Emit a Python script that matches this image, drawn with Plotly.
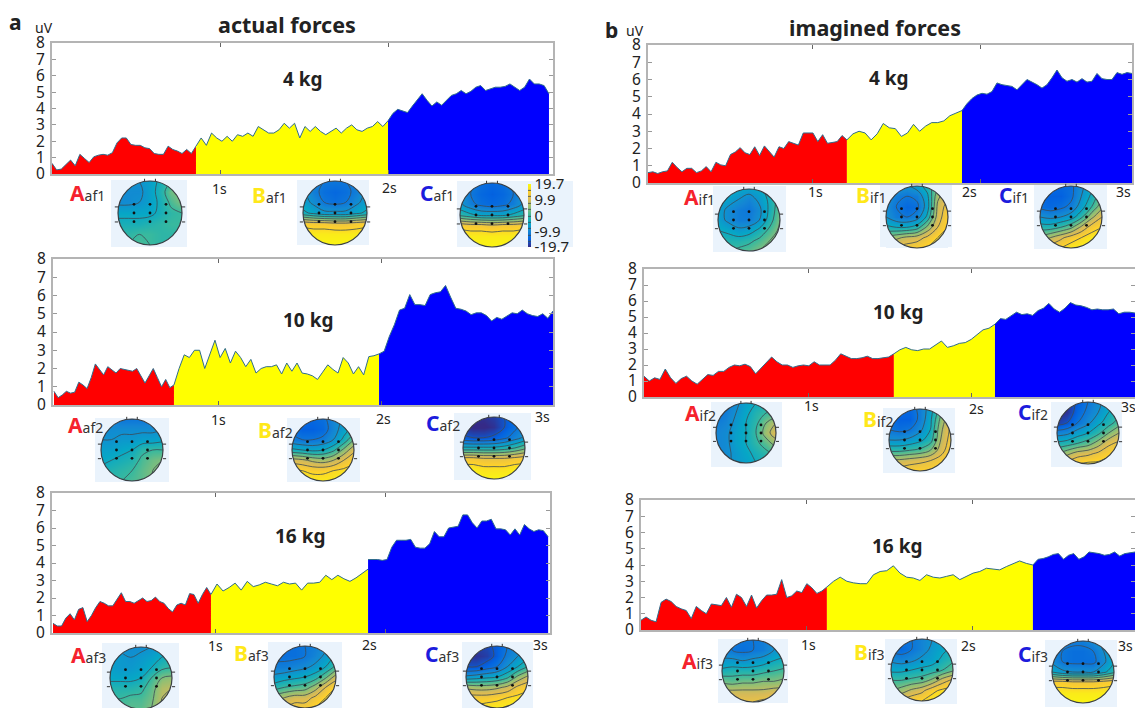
import numpy as np
import plotly.graph_objects as go

W, H = 1135, 708

# ---------- amplitude series (uV), one list per time window ----------
af1_A = [.65,.25,.3,.55,.85,.5,1.2,.95,.7,1.05,1.15,1.2,1.15,1.3,1.9,2.2,2.2,1.8,1.75,1.75,1.6,1.55,1.25,1.2,1.2,1.7,1.5,1.4,1.25,1.5,1.25,1.7]
af1_B = [1.7,2.2,1.75,2.5,2.2,2.0,2.3,2.0,2.4,2.3,2.5,2.3,2.9,2.7,2.5,2.5,2.7,3.1,2.8,3.1,2.2,2.9,2.6,2.9,2.6,2.4,2.6,2.8,2.5,2.8,3.0,2.7,2.6,2.8,2.9,3.2,2.9,3.25]
af1_C = [3.25,3.7,3.95,3.85,3.75,4.15,4.5,4.9,4.5,4.15,4.4,4.2,4.5,4.8,4.9,5.1,4.9,5.05,5.3,5.4,5.1,5.2,5.3,5.3,5.35,5.5,5.3,5.1,5.3,5.8,5.5,5.5,5.4,4.9]
af2_A = [.75,.4,.55,.75,.65,.7,1.25,1.1,.9,1.5,2.25,1.95,1.65,2.1,1.9,1.75,2.0,1.95,1.9,1.85,2.0,1.6,1.2,1.6,2.0,1.5,1.0,1.4,.95,1.1]
af2_B = [1.1,2.0,2.75,2.6,3.0,3.0,2.0,2.8,3.55,2.6,3.1,2.3,2.95,2.6,2.1,2.5,1.75,2.0,2.1,2.1,2.2,1.7,2.3,1.85,2.3,1.75,1.7,1.6,1.4,1.8,2.2,1.95,1.75,2.6,2.3,1.7,2.1,1.65,2.65,2.7,2.8]
af2_C = [2.8,2.95,3.75,4.4,5.2,5.3,6.05,5.5,5.5,5.45,6.05,6.15,6.2,6.55,5.9,5.3,5.25,5.15,4.95,5.05,5.05,4.9,4.6,4.8,4.7,4.9,5.05,5.0,5.2,5.0,4.9,4.85,5.0,4.75,5.15]
af3_A = [.55,.4,.4,.85,1.1,.75,1.35,1.45,.65,1.0,1.45,1.8,1.7,1.55,1.55,1.9,2.3,1.8,1.8,1.7,1.85,2.0,1.8,1.85,2.05,1.8,1.7,1.4,1.2,1.6,1.7,1.6,2.25,2.2,1.7,2.2,2.6,2.2]
af3_B = [2.2,2.8,2.4,2.6,2.85,2.45,2.95,2.65,2.75,2.9,2.8,2.7,2.9,2.8,2.85,2.45,2.85,2.85,2.9,3.3,3.05,3.3,3.1,2.95,3.15,3.4,3.65]
af3_C = [4.2,4.2,4.2,4.15,4.2,4.9,5.3,5.3,5.3,5.35,4.9,4.85,4.85,5.1,5.8,5.5,5.5,6.0,6.05,6.1,6.75,6.75,6.3,6.0,6.4,6.4,6.5,5.95,5.95,5.9,5.6,5.95,5.6,6.2,5.95,5.8,5.9,5.85,5.5]
if1_A = [.6,.65,.55,.65,.7,1.2,.9,.65,.85,.85,.6,.7,.95,.65,1.2,1.05,1.0,1.65,1.8,2.05,1.75,1.65,2.1,1.6,2.15,1.8,1.5,2.1,2.0,2.4,2.3,2.2,2.9,2.9,2.9,2.4,2.8,2.3,2.35,2.4,2.75,2.5]
if1_B = [2.5,2.85,3.0,2.9,2.5,2.85,3.45,3.2,3.15,2.7,2.9,3.4,3.0,3.3,3.5,3.5,3.6,3.9,4.05,4.2]
if1_C = [4.2,4.6,4.9,5.1,5.2,5.15,5.3,5.8,5.7,5.65,5.6,5.4,5.7,6.0,5.85,5.7,5.5,5.7,6.1,6.55,6.1,5.9,6.0,5.85,6.05,5.85,5.9,6.35,6.05,6.0,6.0,6.4,6.3,6.4,6.35]
if2_A = [1.3,1.0,1.2,1.1,1.75,1.2,.85,1.15,1.3,1.0,.8,1.1,1.4,1.35,1.6,1.6,1.85,2.0,1.95,2.05,1.9,1.45,1.8,2.1,2.5,2.2,2.0,2.0,1.85,1.95,2.0,1.95,2.2,2.0,2.0,2.0,2.3,2.7,2.55,2.4,2.4,2.45,2.55,2.4,2.4,2.45,2.5,2.7]
if2_B = [2.7,2.95,3.1,2.95,2.9,3.0,3.0,3.25,3.5,3.1,3.2,3.35,3.4,3.6,3.9,4.2,4.3,4.55]
if2_C = [4.55,4.9,4.85,5.1,5.3,5.15,5.2,5.1,5.4,5.55,5.85,5.5,5.3,5.55,5.9,5.75,5.7,5.6,5.45,5.5,5.45,5.45,5.5,5.2,5.3,5.3,5.25]
if3_A = [.6,.8,.6,.5,1.7,1.9,1.75,1.45,1.3,1.2,.7,1.45,1.2,1.0,1.6,1.55,1.5,2.0,1.4,2.2,2.0,1.45,2.15,1.35,1.8,2.15,2.15,2.2,3.1,2.0,2.1,2.4,2.3,2.85,2.6,2.25,2.4,2.65]
if3_B = [2.65,3.0,3.25,3.0,2.9,2.85,2.85,3.4,3.6,3.65,3.95,3.5,3.25,3.2,3.05,3.4,3.25,3.2,3.3,3.4,3.1,3.3,3.5,3.6,3.8,3.75,3.7,3.9,4.1,4.25,4.1,4.0]
if3_C = [4.0,4.35,4.4,4.5,4.65,4.7,4.35,4.6,4.7,4.35,4.5,4.8,4.75,4.7,4.6,4.65,4.8,4.55,4.7,4.75,4.8]

# ---------- scalp map values, rows top to bottom ----------
map_af1_A = [[-8,-8,-8,-6,-3,0,2],[-9,-9,-9,-6,-2,3,5],[-9,-9,-8,-6,-3,1,4],[-5,-5,-5,-5,-3,-1,0],[-3,-3,-3,-2,-1,0,0],[-1,-1,0,0,-1,-1,-1],[0,0,1,0,-1,-1,-1]]
map_af1_B = [[-8,-10,-12,-12,-12,-10,-8],[-7,-11,-13,-14,-13,-11,-7],[-6,-9,-12,-13,-12,-9,-6],[-3,-5,-7,-7,-7,-5,-3],[15,14,14,13,13,14,15],[18,18,18,18,18,18,18],[19,19,19,19,19,19,19]]
map_af1_C = [[-8,-11,-13,-14,-13,-11,-8],[-8,-12,-14,-15,-14,-12,-8],[-7,-11,-13,-14,-13,-11,-7],[-1,-3,-5,-5,-5,-3,-1],[15,14,14,13,14,14,15],[18,18,18,18,18,18,18],[19,19,19,19,19,19,19]]
map_af2_A = [[-10,-11,-12,-12,-12,-11,-10],[-9,-9,-9,-9,-9,-9,-8],[-8,-8,-7,-7,-6,-6,-5],[-6,-6,-5,-4,-1,0,0],[-5,-4,-3,-2,1,3,4],[-3,-2,-1,0,2,4,5],[-2,-1,0,1,2,4,5]]
map_af2_B = [[-13,-14,-14,-13,-10,-7,-4],[-13,-15,-15,-14,-10,-6,-2],[-11,-12,-12,-11,-8,-3,4],[-3,-4,-5,-4,-1,5,11],[10,9,7,6,8,12,15],[17,16,15,15,16,17,18],[19,19,18,18,18,19,19]]
map_af2_C = [[-19,-19,-19,-18,-16,-13,-11],[-19,-20,-20,-19,-16,-13,-10],[-15,-16,-16,-15,-13,-10,-7],[-3,-3,-3,-3,-2,0,3],[13,13,12,12,12,13,14],[18,18,17,17,17,18,18],[19,19,19,19,19,19,19]]
map_af3_A = [[-8,-9,-9,-9,-8,-7,-6],[-7,-7,-8,-7,-6,-4,-2],[-6,-7,-7,-6,-4,-1,0],[-5,-5,-5,-4,0,4,5],[-2,-2,-2,-1,2,7,8],[0,0,1,1,3,8,9],[1,1,2,2,4,8,9]]
map_af3_B = [[-13,-13,-13,-12,-11,-9,-6],[-13,-13,-13,-12,-10,-7,-3],[-11,-11,-10,-9,-7,-4,1],[-7,-6,-5,-4,-2,3,10],[-2,0,1,2,6,12,16],[6,8,10,10,13,16,18],[10,12,14,14,16,18,19]]
map_af3_C = [[-18,-18,-17,-15,-12,-10,-8],[-19,-19,-18,-15,-11,-8,-5],[-16,-16,-14,-12,-8,-4,0],[-7,-6,-5,-4,-1,5,9],[7,6,6,7,9,13,15],[14,14,14,15,16,17,18],[17,17,18,18,18,19,19]]
map_if1_A = [[-2,-4,-5,-6,-5,-2,1],[-4,-6,-8,-10,-7,-3,2],[-6,-9,-11,-12,-9,-3,3],[-6,-9,-11,-11,-8,-2,4],[-4,-5,-7,-6,-3,1,5],[-2,-2,-2,-1,1,4,7],[0,0,1,2,4,6,8]]
map_if1_B = [[-6,-7,-8,-6,-2,3,8],[-8,-11,-12,-11,-5,7,11],[-9,-12,-14,-13,-6,9,14],[-8,-11,-12,-10,-3,10,15],[-3,-4,-4,-2,5,12,16],[5,7,9,10,13,16,18],[12,13,14,15,16,18,19]]
map_if1_C = [[-13,-14,-14,-13,-9,-5,-1],[-14,-15,-15,-13,-8,-3,3],[-13,-14,-13,-11,-6,0,7],[-8,-9,-8,-6,-1,7,12],[-2,-2,0,3,9,14,16],[5,8,11,14,16,18,19],[12,14,16,18,18,19,19]]
map_if2_A = [[-13,-12,-9,-6,-4,-3,-2],[-13,-11,-8,-5,-2,0,1],[-11,-10,-7,-4,-1,4,8],[-10,-9,-6,-4,0,6,11],[-10,-9,-6,-4,-1,2,6],[-10,-9,-7,-5,-3,-1,1],[-10,-9,-7,-6,-4,-3,-2]]
map_if2_B = [[-12,-14,-14,-11,-6,2,9],[-13,-15,-15,-11,-5,5,12],[-12,-13,-12,-9,-4,7,13],[-8,-8,-7,-5,-2,8,14],[-1,-1,0,1,4,10,15],[9,9,10,11,12,14,16],[14,14,15,15,15,16,18]]
map_if2_C = [[-19,-19,-15,-12,-9,-6,-4],[-20,-19,-14,-11,-8,-4,-1],[-18,-16,-12,-9,-5,-2,2],[-10,-9,-6,-4,-1,4,8],[-3,-2,0,2,6,11,13],[4,7,10,11,13,15,16],[12,14,16,17,17,18,18]]
map_if3_A = [[-11,-12,-12,-12,-11,-9,-7],[-11,-12,-13,-12,-11,-8,-6],[-7,-7,-8,-7,-6,-4,-3],[-3,-2,-2,-2,-1,0,1],[3,2,3,3,4,4,5],[9,9,9,9,9,10,10],[12,12,12,12,13,13,14]]
map_if3_B = [[-13,-13,-12,-10,-8,-6,-5],[-13,-14,-12,-10,-7,-5,-3],[-9,-10,-9,-7,-6,-3,-1],[-5,-5,-4,-3,-2,0,3],[0,0,1,2,5,10,13],[4,6,9,11,15,17,18],[11,13,15,16,18,18,19]]
map_if3_C = [[-8,-10,-11,-11,-9,-6,-3],[-10,-12,-13,-13,-12,-8,-3],[-9,-12,-13,-13,-13,-9,-4],[-4,-7,-8,-8,-8,-5,-1],[14,14,13,13,13,14,15],[18,18,18,18,18,18,18],[19,19,19,19,19,19,19]]

Y_TICKS = [0, 1, 2, 3, 4, 5, 6, 7, 8]
SEGMENT_COLORS = ["#ff0000", "#ffff00", "#0000ff"]
LETTER_COLORS = ["#f5222d", "#ffe81a", "#1c1cdc"]
PARULA = [[0, "#352a87"], [.125, "#0363e1"], [.25, "#1485d4"], [.375, "#06a7c6"], [.5, "#38b99e"],
          [.625, "#92bf73"], [.75, "#d9ba56"], [.875, "#fcce2e"], [1, "#f9fb0e"]]
COLORBAR_TICKS = [-19.7, -9.9, 0, 9.9, 19.7]
MAP_BG = "#eaf3fc"
FONT = "Noto Sans"

# panel layout in pixels: left, right, top, bottom, time range, window bounds (s)
panels = [
    dict(seg=[af1_A, af1_B, af1_C], box=(52, 553, 43, 174), rng=(0, 2.982), bounds=[0, .857, 2.0, 2.958], kg="4 kg", kgp=(303, 79)),
    dict(seg=[af2_A, af2_B, af2_C], box=(53, 553, 259, 405), rng=(-.018, 3.049), bounds=[-.012, .724, 1.982, 3.049], kg="10 kg", kgp=(308, 320)),
    dict(seg=[af3_A, af3_B, af3_C], box=(52, 550, 493, 633), rng=(.041, 2.97), bounds=[.047, .976, 1.9, 2.959], kg="16 kg", kgp=(300, 536)),
    dict(seg=[if1_A, if1_B, if1_C], box=(648, 1132, 45, 183), rng=(.018, 2.899), bounds=[.018, 1.202, 1.887, 2.899], kg="4 kg", kgp=(889, 78)),
    dict(seg=[if2_A, if2_B, if2_C], box=(644, 1135, 269, 397), rng=(-.012, 3.0), bounds=[-.012, 1.521, 2.141, 3.0], kg="10 kg", kgp=(898, 312)),
    dict(seg=[if3_A, if3_B, if3_C], box=(641, 1135, 500, 630), rng=(0, 2.976), bounds=[0, 1.12, 2.361, 2.976], kg="16 kg", kgp=(897, 546)),
]

# scalp maps: values, letter, subscript, circle centre, radius, background box, label position
maps = [
    (map_af1_A, 0, "af1", (150, 213), 32, (111, 187, 180, 247), (68, 193)),
    (map_af1_B, 1, "af1", (335, 213), 32, (297, 369, 180, 245), (250, 195)),
    (map_af1_C, 2, "af1", (492, 215), 32, (457, 573, 181, 247), (418, 193)),
    (map_af2_A, 0, "af2", (132, 450), 31, (95, 169, 418, 482), (66, 425)),
    (map_af2_B, 1, "af2", (323, 450), 31, (287, 360, 418, 482), (256, 430)),
    (map_af2_C, 2, "af2", (494, 448), 31, (454, 531, 413, 480), (424, 423)),
    (map_af3_A, 0, "af3", (141, 678), 31, (102, 179, 643, 708), (69, 655)),
    (map_af3_B, 1, "af3", (305, 677), 31, (268, 342, 642, 708), (232, 653)),
    (map_af3_C, 2, "af3", (497, 677), 31, (462, 533, 642, 708), (423, 654)),
    (map_if1_A, 0, "if1", (749, 220), 31, (713, 786, 186, 252), (682, 197)),
    (map_if1_B, 1, "if1", (917, 217), 31, (880, 952, 183, 247), (854, 195)),
    (map_if1_C, 2, "if1", (1071, 217), 31, (1034, 1107, 184, 249), (997, 195)),
    (map_if2_A, 0, "if2", (746, 433), 30, (711, 782, 402, 467), (683, 413)),
    (map_if2_B, 1, "if2", (920, 440), 31, (883, 955, 408, 473), (861, 419)),
    (map_if2_C, 2, "if2", (1088, 433), 31, (1051, 1122, 402, 467), (1016, 412)),
    (map_if3_A, 0, "if3", (753, 671), 31, (718, 788, 639, 703), (680, 661)),
    (map_if3_B, 1, "if3", (922, 670), 31, (885, 957, 639, 704), (852, 652)),
    (map_if3_C, 2, "if3", (1083, 672), 31, (1045, 1117, 640, 707), (1016, 654)),
]

time_labels = [
    ("1s", 219, 189), ("2s", 389, 187),
    ("1s", 218, 419), ("2s", 383, 418), ("3s", 542, 416),
    ("1s", 215, 645), ("2s", 369, 644), ("3s", 540, 644),
    ("1s", 815, 192), ("2s", 969, 191), ("3s", 1123, 191),
    ("1s", 811, 405), ("2s", 976, 408), ("3s", 1128, 407),
    ("1s", 808, 644), ("2s", 968, 645), ("3s", 1125, 645),
]
titles = [
    ("actual forces", 287, 25, 21.5, True), ("imagined forces", 875, 27, 21.5, True),
    ("a", 15, 22, 21, True), ("b", 611, 30, 21, True),
    ("uV", 44, 28, 14, False), ("uV", 635, 31, 14, False),
]

ELECTRODE_X = [-.5, 0, .5] * 3
ELECTRODE_Y = [.27] * 3 + [0] * 3 + [-.27] * 3
EAR_X = [-1.0, -1.1, None, -1.0, -1.1, None, 1.0, 1.1, None, 1.0, 1.1, None, -.17, -.17, None, .17, .17]
EAR_Y = [.19, .19, None, -.28, -.28, None, .19, .19, None, -.28, -.28, None, .98, 1.07, None, .98, 1.07]
GRID = np.linspace(-1, 1, 7)


def X(p):
    return p / W


def Y(p):
    return 1 - p / H


fig = go.Figure()
ax_n = 0
annotations = []
shapes = []


def note(text, x, y, size, bold=False, anchor="center", color="#222"):
    annotations.append(dict(text=f"<b>{text}</b>" if bold else text, x=X(x), y=Y(y), xref="paper", yref="paper",
                            xanchor=anchor, yanchor="middle", showarrow=False,
                            font=dict(size=size, family=FONT, color=color)))


layout_axes = {}
for p in panels:
    ax_n += 1
    xa, ya = f"x{ax_n}", f"y{ax_n}"
    l, r, t, b = p["box"]
    layout_axes[f"xaxis{ax_n}"] = dict(domain=[X(l), X(r)], range=list(p["rng"]), anchor=ya, tickvals=[1, 2],
                                       showticklabels=False, ticks="inside", ticklen=4, tickcolor="#666",
                                       showgrid=False, zeroline=False, showline=True, linecolor="#b4b4b4",
                                       linewidth=2, mirror="ticks")
    layout_axes[f"yaxis{ax_n}"] = dict(domain=[Y(b), Y(t)], range=[0, 8], anchor=xa, tickvals=Y_TICKS,
                                       ticks="inside", ticklen=4, tickcolor="#999", showgrid=False, zeroline=False,
                                       showline=True, linecolor="#b4b4b4", linewidth=2, mirror="ticks",
                                       tickfont=dict(size=15.5, family=FONT, color="#222"), ticklabelstandoff=2)
    for i, vals in enumerate(p["seg"]):
        ts = np.linspace(p["bounds"][i], p["bounds"][i + 1], len(vals))
        fig.add_trace(go.Scatter(x=ts, y=vals, mode="lines", fill="tozeroy", fillcolor=SEGMENT_COLORS[i],
                                 line=dict(color="#2f6d8c", width=1), xaxis=xa, yaxis=ya, showlegend=False,
                                 hoverinfo="skip"))
    note(p["kg"], p["kgp"][0], p["kgp"][1], 19, bold=True)

theta = np.linspace(0, 2 * np.pi, 121)
hole = "M" + "L".join(f"{np.cos(a):.4f},{np.sin(a):.4f}" for a in theta) + "Z"
mask_path = "M-1,-1L1,-1L1,1L-1,1Z" + hole

for z, letter, sub, (cx, cy), rad, (bl, br, bt, bb), (lx, ly) in maps:
    ax_n += 1
    xa, ya = f"x{ax_n}", f"y{ax_n}"
    half = rad * 1.2
    pb = min(H, cy + half)
    layout_axes[f"xaxis{ax_n}"] = dict(domain=[X(cx - half), X(cx + half)], range=[-1.2, 1.2], visible=False,
                                       fixedrange=True, anchor=ya)
    layout_axes[f"yaxis{ax_n}"] = dict(domain=[Y(pb), Y(cy - half)], range=[-(pb - cy) / rad, 1.2], visible=False,
                                       fixedrange=True, anchor=xa)
    shapes.append(dict(type="rect", xref="paper", yref="paper", x0=X(bl), x1=X(br), y0=Y(bb), y1=Y(bt),
                       fillcolor=MAP_BG, line_width=0, layer="below"))
    show_cb = z is map_af1_C
    fig.add_trace(go.Contour(
        x=GRID, y=GRID, z=np.array(z, dtype=float)[::-1], colorscale=PARULA, zmin=-19.7, zmax=19.7,
        autocontour=False, contours=dict(start=-16, end=16, size=4, coloring="heatmap"),
        line=dict(color="#3c4a55", width=0.8, smoothing=1), xaxis=xa, yaxis=ya, hoverinfo="skip",
        showscale=show_cb,
        colorbar=dict(x=X(528), xanchor="left", y=Y(215.5), yanchor="middle", lenmode="pixels", len=63,
                      thicknessmode="pixels", thickness=3, outlinewidth=0, ticks="", tickvals=COLORBAR_TICKS,
                      ticktext=[f"{v:g}" for v in COLORBAR_TICKS], tickfont=dict(size=15, family=FONT, color="#222"),
                      xpad=0, ypad=0) if show_cb else None))
    fig.add_trace(go.Scatter(x=EAR_X, y=EAR_Y, mode="lines", line=dict(color="#333", width=1), xaxis=xa, yaxis=ya,
                             showlegend=False, hoverinfo="skip"))
    fig.add_trace(go.Scatter(x=ELECTRODE_X, y=ELECTRODE_Y, mode="markers", marker=dict(color="#111", size=2.8),
                             xaxis=xa, yaxis=ya, showlegend=False, hoverinfo="skip"))
    shapes.append(dict(type="path", path=mask_path, xref=xa, yref=ya, fillcolor=MAP_BG, fillrule="evenodd",
                       line_width=0, layer="above"))
    shapes.append(dict(type="circle", xref=xa, yref=ya, x0=-1, x1=1, y0=-1, y1=1,
                       line=dict(color="#3a3f44", width=1.2), layer="above"))
    big = f'<span style="color:{LETTER_COLORS[letter]};font-size:21px"><b>{"ABC"[letter]}</b></span>{sub}'
    note(big, lx, ly, 14, anchor="left", color="#333")

for text, x, y in time_labels:
    note(text, x, y, 14, color="#222")
for text, x, y, size, bold in titles:
    note(text, x, y, size, bold=bold)

fig.update_layout(width=W, height=H, margin=dict(l=0, r=0, t=0, b=0, autoexpand=False), paper_bgcolor="white",
                  plot_bgcolor="rgba(0,0,0,0)", showlegend=False, annotations=annotations, shapes=shapes, **layout_axes)
fig.write_html("out.html", post_script="document.body.style.margin='0';", config={"displayModeBar": False})
